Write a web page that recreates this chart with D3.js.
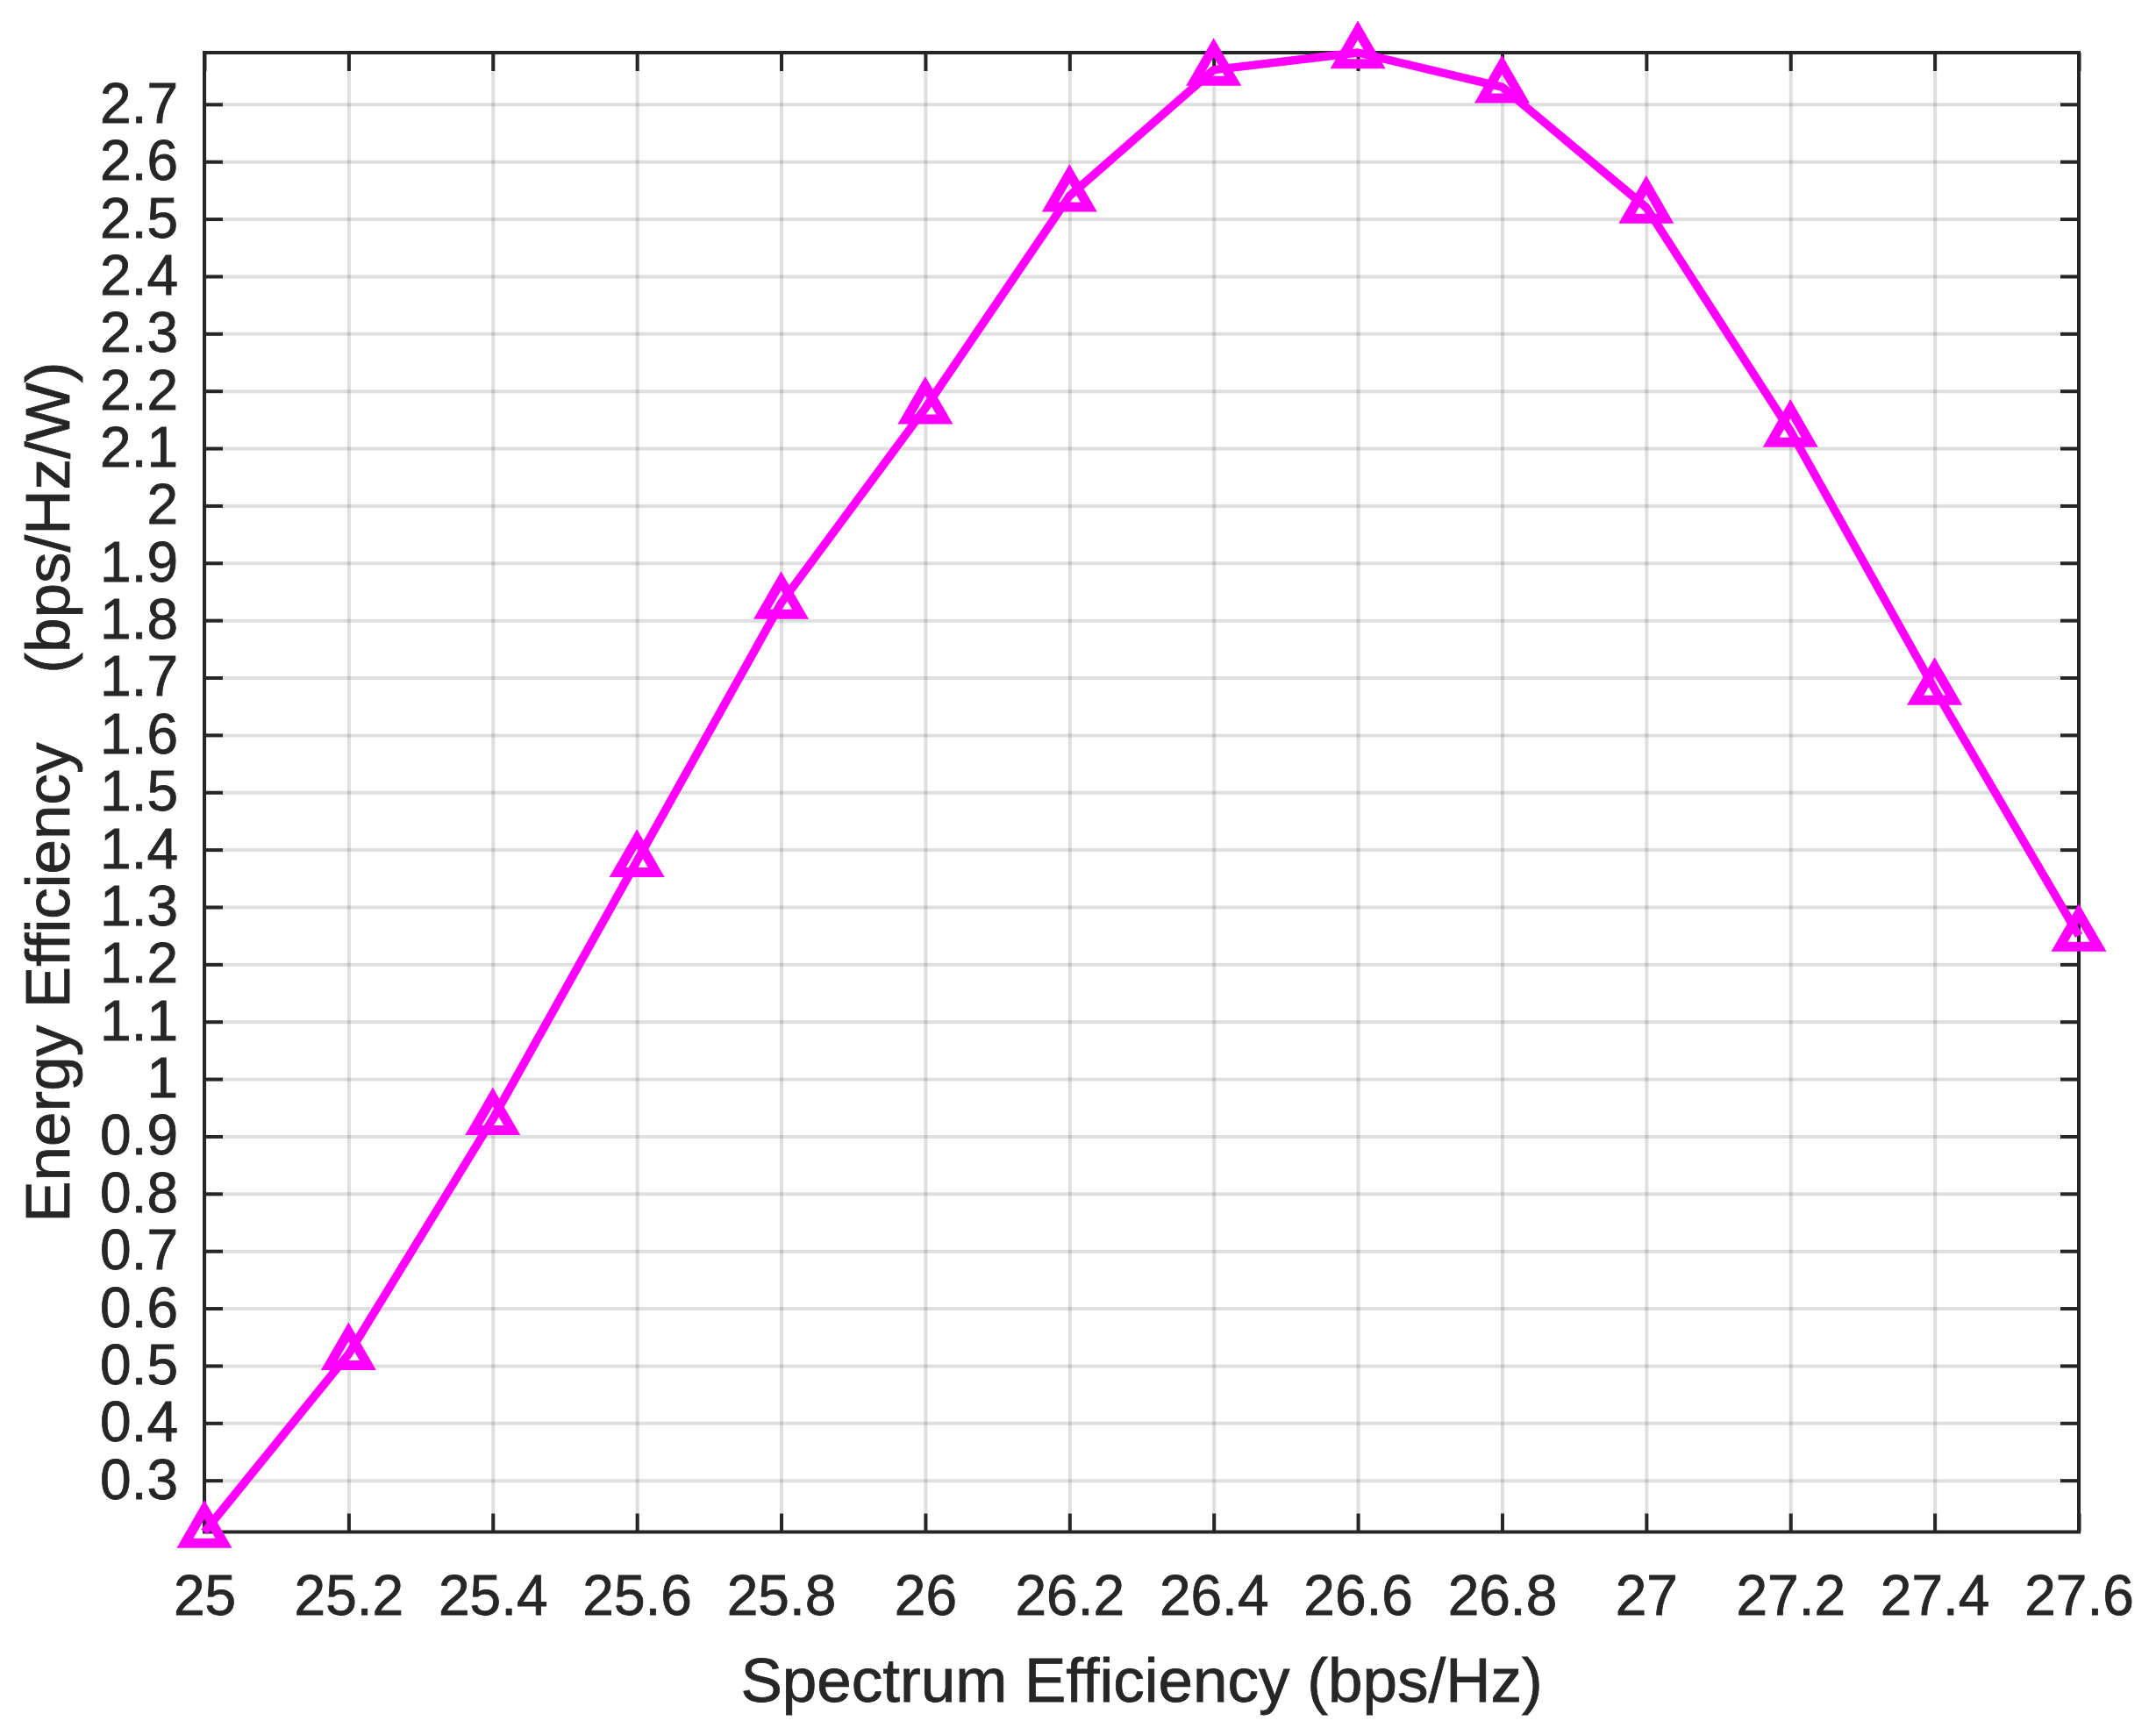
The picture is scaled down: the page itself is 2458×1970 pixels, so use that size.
<!DOCTYPE html>
<html>
<head>
<meta charset="utf-8">
<script src="https://cdn.jsdelivr.net/npm/d3@7"></script>
<style>
  body { margin: 0; background: #fff; }
  text { font-family: "Liberation Sans", Arial, sans-serif; fill: #262626; }
</style>
</head>
<body>
<svg width="2458" height="1970"></svg>
<script>
// values
var spectrumEff = [25, 25.2, 25.4, 25.6, 25.8, 26, 26.2, 26.4, 26.6, 26.8, 27, 27.2, 27.4, 27.6];
var energyEff = [0.21, 0.52, 0.93, 1.38, 1.83, 2.17, 2.54, 2.76, 2.79, 2.73, 2.52, 2.13, 1.68, 1.25];

var xTicks = [25, 25.2, 25.4, 25.6, 25.8, 26, 26.2, 26.4, 26.6, 26.8, 27, 27.2, 27.4, 27.6];
var yTicks = [0.3, 0.4, 0.5, 0.6, 0.7, 0.8, 0.9, 1, 1.1, 1.2, 1.3, 1.4, 1.5, 1.6, 1.7, 1.8, 1.9, 2,
              2.1, 2.2, 2.3, 2.4, 2.5, 2.6, 2.7];

var xLabel = "Spectrum Efficiency (bps/Hz)";
var yLabel = "Energy Efficiency    (bps/Hz/W)";

var svg = d3.select("svg"),
    plotLeft = 233, plotRight = 2370, plotTop = 60, plotBottom = 1746.5,
    w = plotRight - plotLeft, h = plotBottom - plotTop;

var x = d3.scaleLinear().domain([25, 27.6]).range([plotLeft, plotRight]);
var y = d3.scaleLinear().domain([d3.min(energyEff), d3.max(energyEff)]).range([plotBottom, plotTop]);

var fmt = function(d) { return d3.format("~g")(+d.toFixed(1)); };

// grid
svg.append("g")
    .attr("transform", "translate(0," + plotBottom + ")")
    .call(d3.axisBottom(x).tickValues(xTicks).tickSize(-h).tickSizeOuter(0).tickFormat(""))
    .call(function(g) { g.select(".domain").remove(); })
    .selectAll("line").attr("stroke", "#262626").attr("stroke-opacity", 0.15).attr("stroke-width", 4);

svg.append("g")
    .attr("transform", "translate(" + plotLeft + ",0)")
    .call(d3.axisLeft(y).tickValues(yTicks).tickSize(-w).tickSizeOuter(0).tickFormat(""))
    .call(function(g) { g.select(".domain").remove(); })
    .selectAll("line").attr("stroke", "#262626").attr("stroke-opacity", 0.15).attr("stroke-width", 4);

// axes with inward ticks on all sides
var tickLen = 21;
function styleAxis(g) {
    g.select(".domain").remove();
    g.selectAll("line").attr("stroke", "#262626").attr("stroke-width", 4);
    g.selectAll("text").attr("font-size", 64).attr("fill", "#262626")
        .attr("stroke", "#262626").attr("stroke-width", 0.8)
        .style("font-family", "'Liberation Sans', Arial, sans-serif");
}

svg.append("g")
    .attr("transform", "translate(0," + plotBottom + ")")
    .call(d3.axisBottom(x).tickValues(xTicks).tickSize(-tickLen).tickSizeOuter(0).tickPadding(49).tickFormat(fmt))
    .call(styleAxis);

svg.append("g")
    .attr("transform", "translate(0," + plotTop + ")")
    .call(d3.axisTop(x).tickValues(xTicks).tickSize(-tickLen).tickSizeOuter(0).tickFormat(""))
    .call(styleAxis);

svg.append("g")
    .attr("transform", "translate(" + plotLeft + ",0)")
    .call(d3.axisLeft(y).tickValues(yTicks).tickSize(-tickLen).tickSizeOuter(0).tickPadding(30).tickFormat(fmt))
    .call(styleAxis);

svg.append("g")
    .attr("transform", "translate(" + plotRight + ",0)")
    .call(d3.axisRight(y).tickValues(yTicks).tickSize(-tickLen).tickSizeOuter(0).tickFormat(""))
    .call(styleAxis);

svg.append("rect")
    .attr("x", plotLeft).attr("y", plotTop).attr("width", w).attr("height", h)
    .attr("fill", "none").attr("stroke", "#262626").attr("stroke-width", 4);

// labels
svg.append("text")
    .attr("x", (plotLeft + plotRight) / 2).attr("y", 1940)
    .attr("text-anchor", "middle").attr("font-size", 71)
    .attr("stroke", "#262626").attr("stroke-width", 0.8)
    .text(xLabel);

svg.append("text")
    .attr("transform", "translate(79," + (plotTop + plotBottom) / 2 + ") rotate(-90)")
    .attr("text-anchor", "middle").attr("font-size", 71)
    .attr("stroke", "#262626").attr("stroke-width", 0.8)
    .style("white-space", "pre")
    .text(yLabel);

// data
var pts = spectrumEff.map(function(d, i) { return [d, energyEff[i]]; });

svg.append("path")
    .datum(pts)
    .attr("fill", "none").attr("stroke", "#ff00ff").attr("stroke-width", 9.5)
    .attr("stroke-linejoin", "round")
    .attr("d", d3.line().x(function(d) { return x(d[0]); }).y(function(d) { return y(d[1]); }));

var s = 44;
var tri = "M0," + (-s / Math.sqrt(3)) + "L" + (s / 2) + "," + (s / (2 * Math.sqrt(3))) +
          "L" + (-s / 2) + "," + (s / (2 * Math.sqrt(3))) + "Z";

svg.append("g").selectAll("path")
    .data(pts)
    .enter()
    .append("path")
    .attr("d", tri)
    .attr("transform", function(d) { return "translate(" + x(d[0]) + "," + y(d[1]) + ")"; })
    .attr("fill", "none").attr("stroke", "#ff00ff").attr("stroke-width", 11)
    .attr("stroke-linejoin", "miter");
</script>
</body>
</html>
